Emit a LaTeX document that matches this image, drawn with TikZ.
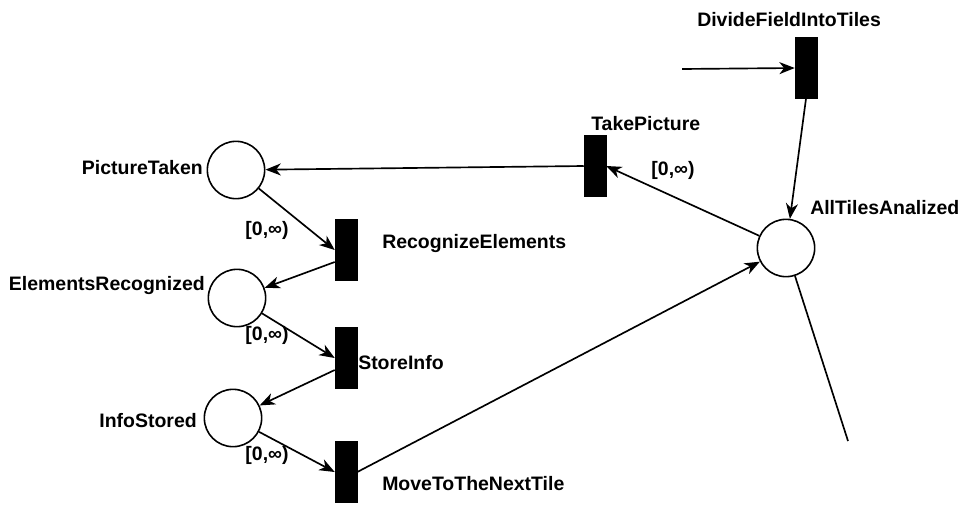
\documentclass[tikz,border=0pt]{standalone}
\usepackage{fontspec}
\setmainfont{Liberation Sans}
\usetikzlibrary{arrows.meta}
\begin{document}
\begin{tikzpicture}[x=0.75pt,y=-0.75pt,
  place/.style={circle,draw=black,line width=1.2pt,fill=white,minimum size=43pt,inner sep=0pt},
  trans/.style={rectangle,draw=black,fill=black,minimum width=16.5pt,minimum height=45.5pt,inner sep=0pt},
  lbl/.style={font=\fontsize{14.6}{17}\selectfont\bfseries,inner sep=0pt,text=black},
  arc/.style={line width=1.25pt,-{Stealth[length=11.5pt,width=9pt,inset=3.5pt]}},
  plain/.style={line width=1.25pt}]
\useasboundingbox (0,0) rectangle (969,514);
% places
\node[place] (pt) at (236,170) {};
\node[place] (er) at (237,298) {};
\node[place] (is) at (233,418) {};
\node[place] (at) at (786,248) {};
% transitions
\node[trans] (re) at (346,250) {};
\node[trans] (si) at (346,358) {};
\node[trans] (mv) at (346,472) {};
\node[trans] (tp) at (595,166) {};
\node[trans] (df) at (806,68) {};
% free ends
\coordinate (src) at (682,69);
\coordinate (sink) at (848,441);
% labels
\node[lbl,anchor=east] (lpt) at (203,168) {PictureTaken};
\node[lbl,anchor=east] (ler) at (205,286) {ElementsRecognized};
\node[lbl,anchor=east] (lis) at (197,421) {InfoStored};
\node[lbl,anchor=west] (lre) at (382,244) {RecognizeElements};
\node[lbl,anchor=west] (lsi) at (358,363) {StoreInfo};
\node[lbl,anchor=west] (lmv) at (382,484) {MoveToTheNextTile};
\node[lbl,anchor=west] (ltp) at (591,124) {TakePicture};
\node[lbl,anchor=west] (ldf) at (697,20) {DivideFieldIntoTiles};
\node[lbl,anchor=west] (lat) at (810,208) {AllTilesAnalized};
\node[lbl] (i1) at (267,230) {[0,∞)};
\node[lbl] (i2) at (267,335) {[0,∞)};
\node[lbl] (i3) at (267,455) {[0,∞)};
\node[lbl] (i4) at (673,170) {[0,∞)};
% arcs
\draw[arc] (src) -- (df.west);
\draw[arc] (df.south) -- (at);
\draw[arc] (at) -- (tp.east);
\draw[arc] (tp.west) -- (pt);
\draw[arc] (pt) -- (re.west);
\draw[arc] ([yshift=-9pt]re.west) -- (er);
\draw[arc] (er) -- (si.west);
\draw[arc] ([yshift=-9pt]si.west) -- (is);
\draw[arc] (is) -- (mv.west);
\draw[arc] (mv.east) -- (at);
\draw[plain] (at) -- (sink);
\end{tikzpicture}
\end{document}
